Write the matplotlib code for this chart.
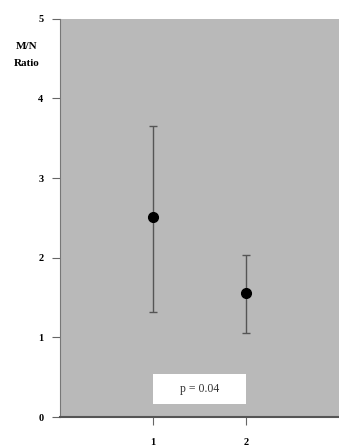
import matplotlib
matplotlib.use("Agg")
import matplotlib.pyplot as plt
from matplotlib.patches import Rectangle

# data
groups = [1, 2]
ratio_mean = [2.51, 1.56]
err_low = [1.32, 1.05]
err_high = [3.65, 2.04]
y_ticks = [0, 1, 2, 3, 4, 5]
p_label = "p = 0.04"

fig = plt.figure(figsize=(3.39, 4.48), dpi=100)
ax = fig.add_axes([0.177, 0.069, 0.823, 0.889])
ax.set_facecolor("#b9b9b9")

yerr = [[m - lo for m, lo in zip(ratio_mean, err_low)],
        [hi - m for m, hi in zip(ratio_mean, err_high)]]
ax.errorbar(groups, ratio_mean, yerr=yerr, fmt="o", color="black",
            markersize=7, ecolor="#555555", elinewidth=1.0,
            capsize=3, capthick=1.0, zorder=3)

ax.set_xlim(0, 3)
ax.set_ylim(0, 5)
ax.set_xticks(groups)
ax.set_yticks(y_ticks)

for s in ("top", "right"):
    ax.spines[s].set_visible(False)
ax.spines["left"].set_color("#777777")
ax.spines["bottom"].set_color("#555555")
ax.spines["bottom"].set_linewidth(1.5)
ax.tick_params(direction="out", length=6, width=0.8, color="#666666",
               labelsize=7.5)
ax.tick_params(axis="y", pad=6)
ax.tick_params(axis="x", pad=9)
for lab in ax.get_xticklabels() + ax.get_yticklabels():
    lab.set_fontfamily("Liberation Serif")
    lab.set_fontweight("bold")

fig.text(0.08, 0.877, "M/N\nRatio", ha="center", va="center",
         family="Liberation Serif", fontweight="bold", fontsize=8,
         linespacing=2.1)

# p-value box
ax.add_patch(Rectangle((1.0, 0.16), 1.0, 0.38, facecolor="white",
                       edgecolor="none", zorder=2))
ax.text(1.5, 0.35, p_label, ha="center", va="center",
        family="Liberation Serif", fontsize=8.5, color="#333333", zorder=3)

fig.savefig("out.png", dpi=100, facecolor="white")
